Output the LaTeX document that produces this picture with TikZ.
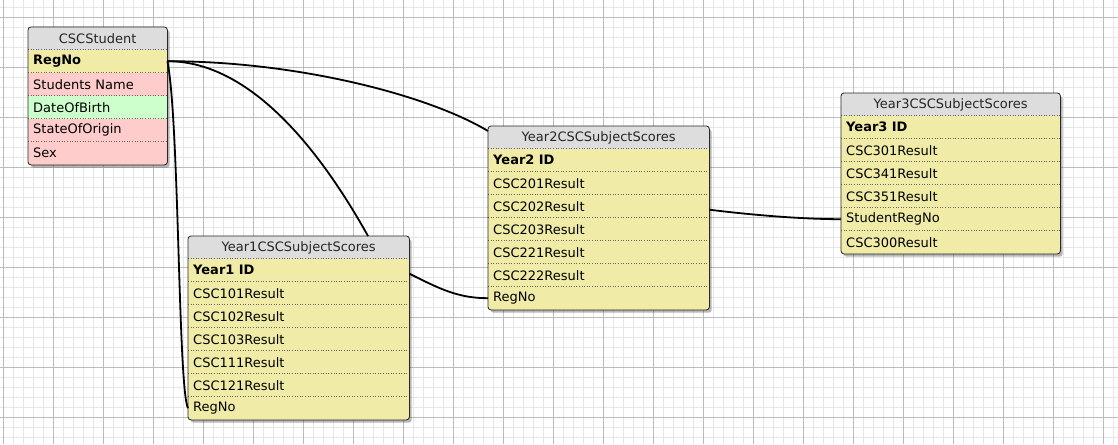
\documentclass[tikz,border=0pt]{standalone}
\usepackage{fontspec}
\setmainfont{DejaVu Sans}
\usetikzlibrary{shadows,calc}
\definecolor{hdr}{RGB}{221,221,221}
\definecolor{yel}{RGB}{240,236,168}
\definecolor{pnk}{RGB}{255,204,204}
\definecolor{grn}{RGB}{204,255,204}
\definecolor{minorg}{RGB}{230,230,230}
\definecolor{majorg}{RGB}{188,188,188}
\definecolor{edge}{RGB}{40,40,40}
\tikzset{
  tblbox/.style={draw=edge, fill=white, rounded corners=3pt, inner sep=0pt, anchor=north west,
    drop shadow={shadow xshift=2.5pt, shadow yshift=-3pt, opacity=0.4, fill=black!70}},
  hdrcell/.style={fill=hdr, inner sep=0pt, anchor=north west, font=\fontsize{13}{15}\selectfont, text=black!85},
  rowcell/.style={inner sep=0pt, inner xsep=5pt, anchor=north west, align=left,
    font=\fontsize{13}{15}\selectfont, text=black, minimum height=23pt},
  sepline/.style={draw=black!60, dotted, line width=0.6pt},
  conn/.style={draw=black, line width=1.8pt},
}
\newcommand\dbtable[7]{%
  \pgfmathsetmacro\tblh{22.5+23*#5}%
  \pgfmathsetmacro\tbltw{#4-10}%
  \node[tblbox, minimum width=#4pt, minimum height=\tblh pt] (#1) at (#2,#3) {};
  \begin{scope}
    \clip[rounded corners=3pt] (#1.north west) rectangle (#1.south east);
    \node[hdrcell, minimum width=#4pt, minimum height=22.5pt] (#1-h) at (#1.north west) {#6};
    \foreach \rc/\rb/\rt [count=\i] in {#7} {
      \pgfmathsetmacro\ry{#3+22.5+23*(\i-1)}
      \node[rowcell, fill=\rc, text width=\tbltw pt] (#1-\i) at (#2,\ry) {\rb\rt};
      \draw[sepline] (#2,\ry) -- ++(#4,0);
    }
  \end{scope}
  \draw[draw=edge, line width=0.8pt, rounded corners=3pt] (#1.north west) rectangle (#1.south east);
}
\begin{document}
\begin{tikzpicture}[x=1pt,y=-1pt]
\useasboundingbox (0,0) rectangle (1118,444);
\fill[white] (0,0) rectangle (1118,444);
\foreach \x in {3,13,...,1113} \draw[minorg, line width=0.7pt] (\x,0) -- (\x,444);
\foreach \y in {7,17,...,437} \draw[minorg, line width=0.7pt] (0,\y) -- (1118,\y);
\foreach \x in {3,53,...,1103} \draw[majorg, line width=0.7pt] (\x,0) -- (\x,444);
\foreach \y in {17,67,...,417} \draw[majorg, line width=0.7pt] (0,\y) -- (1118,\y);

\dbtable{stu}{28}{27}{139}{5}{CSCStudent}{yel/\bfseries/RegNo, pnk/\mdseries/Students Name, grn/\mdseries/DateOfBirth, pnk/\mdseries/StateOfOrigin, pnk/\mdseries/Sex}
\dbtable{y1}{188}{236}{221}{7}{Year1CSCSubjectScores}{yel/\bfseries/Year1 ID, yel/\mdseries/CSC101Result, yel/\mdseries/CSC102Result, yel/\mdseries/CSC103Result, yel/\mdseries/CSC111Result, yel/\mdseries/CSC121Result, yel/\mdseries/RegNo}
\dbtable{y2}{488}{126}{221}{7}{Year2CSCSubjectScores}{yel/\bfseries/Year2 ID, yel/\mdseries/CSC201Result, yel/\mdseries/CSC202Result, yel/\mdseries/CSC203Result, yel/\mdseries/CSC221Result, yel/\mdseries/CSC222Result, yel/\mdseries/RegNo}
\dbtable{y3}{841}{93}{219}{6}{Year3CSCSubjectScores}{yel/\bfseries/Year3 ID, yel/\mdseries/CSC301Result, yel/\mdseries/CSC341Result, yel/\mdseries/CSC351Result, yel/\mdseries/StudentRegNo, yel/\mdseries/CSC300Result}

\draw[conn] (stu-1.east) .. controls +(130,0) and +(-60,-36) .. ([yshift=-5pt]y2.north west);
\draw[conn] (stu-1.east) .. controls +(83,0) and +(-48,-86) .. ($(y1.north west)+(180,0)$);
\draw[conn] (stu-1.east) .. controls +(12,60) and +(-10,-20) .. (y1-7.west);
\draw[conn] ([yshift=-3.5pt]y1-1.east) .. controls +(30,15) and +(-30,0) .. (y2-7.west);
\draw[conn] ([yshift=-3.5pt]y2-3.east) .. controls +(40,5) and +(-40,0) .. (y3-5.west);
\end{tikzpicture}
\end{document}
